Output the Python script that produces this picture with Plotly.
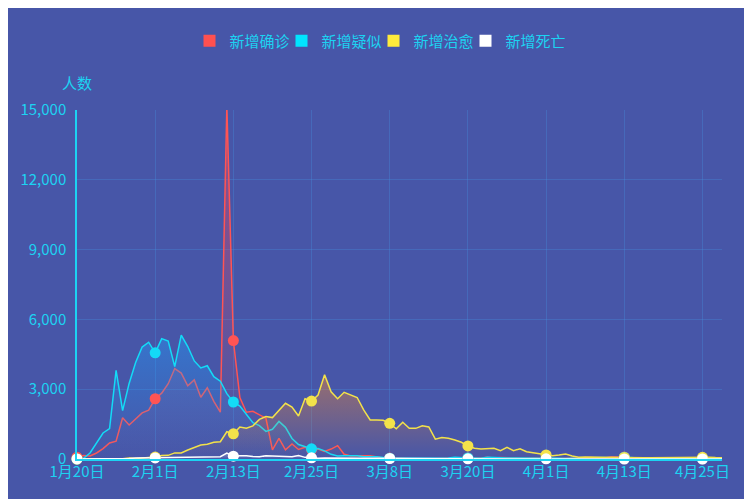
import plotly.graph_objects as go

# ---------------- data ----------------
month_spans = [(1, 20, 31), (2, 1, 29), (3, 1, 31), (4, 1, 28)]
dates = [f"{m}月{d}日" for m, s, e in month_spans for d in range(s, e + 1)]

confirmed = [
    77, 149, 131, 259, 444, 688, 769, 1771, 1459, 1737, 1982, 2102,
    2590, 2829, 3235, 3887, 3694, 3143, 3399, 2656, 3062, 2478, 2015, 15152, 5090, 2641, 2009, 2048, 1886, 1749,
    394, 889, 397, 648, 409, 508, 406, 433, 327, 427, 573,
    202, 125, 119, 139, 143, 99, 44, 40, 19, 24, 15, 8, 11, 20, 16, 21, 13, 34, 39, 41,
    46, 39, 78, 47, 67, 55, 54, 45, 31, 48, 36,
    35, 31, 19, 30, 39, 32, 62, 63, 42, 46, 99, 108, 89, 46, 26, 27, 27, 16, 12, 11,
    30, 10, 6, 12, 11, 3, 6, 22,
]
suspected = [
    0, 30, 257, 680, 1118, 1309, 3806, 2077, 3248, 4148, 4812, 5019,
    4562, 5173, 5072, 3971, 5328, 4833, 4214, 3916, 4008, 3536, 3342, 2807, 2450, 2277, 1918, 1563, 1432, 1185,
    1277, 1614, 1361, 882, 620, 530, 439, 452, 350, 200, 132,
    141, 143, 143, 102, 99, 102, 60, 36, 31, 31, 33, 33, 17, 39, 41, 45, 45, 73, 48, 45,
    45, 35, 75, 53, 56, 40, 40, 30, 25, 35, 30,
    40, 50, 35, 25, 48, 40, 57, 60, 45, 40, 50, 60, 75, 65, 40, 35, 30, 25, 18, 15,
    30, 20, 15, 10, 10, 8, 10, 12,
]
cured = [
    0, 0, 6, 3, 11, 3, 11, 9, 43, 21, 47, 72,
    85, 147, 157, 262, 261, 387, 510, 600, 632, 716, 744, 1171, 1081, 1373, 1323, 1425, 1701, 1824,
    1779, 2109, 2393, 2231, 1846, 2589, 2491, 2750, 3622, 2885, 2589,
    2867, 2742, 2644, 2111, 1681, 1678, 1661, 1535, 1297, 1578, 1318, 1318, 1430, 1378, 850, 920, 890, 817, 720, 560,
    460, 430, 430, 460, 360, 500, 360, 440, 315, 272, 200,
    172, 143, 172, 215, 129, 72, 90, 80, 85, 75, 60, 60, 65, 70, 60, 55, 50, 55, 50, 60,
    55, 50, 60, 65, 70, 75, 60, 55,
]
deaths = [
    3, 3, 8, 8, 16, 15, 24, 26, 26, 38, 43, 46,
    45, 57, 64, 65, 73, 73, 86, 89, 97, 108, 97, 254, 121, 143, 142, 105, 98, 136,
    114, 118, 109, 97, 150, 71, 52, 29, 44, 47, 35,
    42, 31, 38, 31, 30, 28, 27, 22, 17, 22, 11, 7, 13, 10, 14, 13, 11, 8, 3, 7,
    6, 9, 7, 4, 6, 5, 3, 5, 4, 1, 7,
    6, 4, 4, 3, 1, 2, 0, 2, 1, 3, 0, 0, 0, 0, 0, 0, 0, 0, 0, 0,
    0, 0, 0, 0, 0, 0, 0, 0,
]

series_names = ["新增确诊", "新增疑似", "新增治愈", "新增死亡"]
series_values = [confirmed, suspected, cured, deaths]
y_ticks = [0, 3000, 6000, 9000, 12000, 15000]
tick_dates = dates[::12]

# ---------------- style ----------------
BG = "#4756a8"
CYAN_TXT = "#1cd3f2"
FONT = "Noto Sans CJK SC"
line_colors = ["#ff5454", "#13dbf7", "#f3e24a", "#ffffff"]
fill_rgb = ["255,70,90", "30,160,255", "255,140,40", "255,255,255"]
fill_top_alpha = [0.45, 0.42, 0.45, 0.3]
legend_colors = ["#ff5050", "#00e5ff", "#ffeb3b", "#ffffff"]

fig = go.Figure()

for name, vals, lc, frgb, fa in zip(series_names, series_values, line_colors, fill_rgb, fill_top_alpha):
    fig.add_trace(go.Scatter(
        x=dates, y=vals, mode="lines", name=name, showlegend=False,
        line=dict(color=lc, width=1.5),
        fill="tozeroy",
        fillgradient=dict(type="vertical",
                          colorscale=[[0, f"rgba({frgb},0)"], [1, f"rgba({frgb},{fa})"]]),
        hoverinfo="skip",
    ))

for name, vals, lc in zip(series_names, series_values, line_colors):
    fig.add_trace(go.Scatter(
        x=dates[::12], y=vals[::12], mode="markers", showlegend=False,
        marker=dict(color=lc, size=11, line=dict(width=0)),
        cliponaxis=False, hoverinfo="skip",
    ))

for i, (name, c) in enumerate(zip(series_names, legend_colors)):
    fig.add_trace(go.Scatter(
        x=[None], y=[None], mode="markers", name=name, showlegend=True,
        marker=dict(symbol="square", size=12, color=c),
        legendwidth=64 if i == len(series_names) - 1 else 47,
    ))

GRID = "rgba(70,140,220,0.35)"

fig.update_layout(
    width=750, height=510,
    paper_bgcolor=BG, plot_bgcolor=BG,
    margin=dict(l=65, r=36, t=102, b=59),
    font=dict(family=FONT, color=CYAN_TXT, size=15),
    showlegend=True,
    legend=dict(
        orientation="h", xref="container", yref="container",
        x=0.242, xanchor="left", y=1 - 33 / 510, yanchor="middle",
        font=dict(family=FONT, size=15, color=CYAN_TXT),
        itemwidth=30, entrywidth=47, bgcolor="rgba(0,0,0,0)",
        itemclick=False,
    ),
    xaxis=dict(
        type="category", range=[0, len(dates) - 1],
        tickmode="array", tickvals=tick_dates, ticktext=tick_dates,
        showgrid=True, gridcolor=GRID, gridwidth=1,
        showline=True, linecolor=CYAN_TXT, linewidth=1.5,
        ticks="", zeroline=False, ticklabelstandoff=-2,
        tickfont=dict(family=FONT, size=15, color=CYAN_TXT),
    ),
    yaxis=dict(
        range=[0, 15000], tickmode="array", tickvals=y_ticks,
        tickformat=",d",
        showgrid=True, gridcolor=GRID, gridwidth=1,
        showline=True, linecolor=CYAN_TXT, linewidth=1.5,
        ticks="", zeroline=False, ticklabelstandoff=6,
        tickfont=dict(family=FONT, size=15, color=CYAN_TXT),
    ),
    annotations=[dict(
        text="人数", xref="paper", yref="paper", x=0, y=1,
        xanchor="center", yanchor="middle", yshift=28, showarrow=False,
        font=dict(family=FONT, size=15, color=CYAN_TXT),
    )],
)

post = """
document.documentElement.style.overflow='hidden';
document.body.style.overflow='hidden';
document.body.style.margin='0';
var gd = document.getElementsByClassName('plotly-graph-div')[0];
gd.style.position='fixed'; gd.style.left='8px'; gd.style.top='8px';
"""
fig.write_html("out.html", post_script=post)
